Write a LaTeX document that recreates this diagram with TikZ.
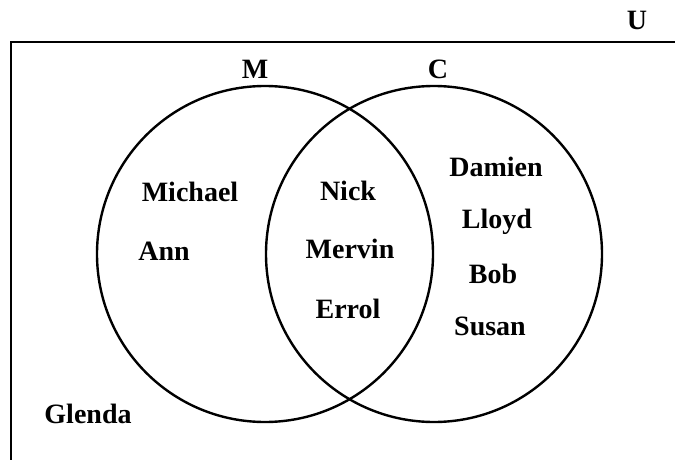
\documentclass[tikz,border=0pt]{standalone}
\usepackage{fontspec}
\setmainfont{Liberation Serif}
\begin{document}
\begin{tikzpicture}[x=1pt,y=-1pt,
  lbl/.style={font=\bfseries\fontsize{28}{31}\selectfont, anchor=base, inner sep=0pt},
  setc/.style={draw, line width=2.4pt, circle, minimum size=336pt, inner sep=0pt},
  frame/.style={line width=2.6pt}]
\useasboundingbox (0,0) rectangle (675,460);
% universe frame (right and bottom sides lie outside the picture)
\coordinate (ul) at (11,42);
\coordinate (ll) at (11,480);
\coordinate (ur) at (700,42);
\draw[frame] (ll) -- (ul) -- (ur);
% sets
\node[setc] (setM) at (265,254) {};
\node[setc] (setC) at (434,254) {};
% set labels
\node[lbl] (U) at (637,30) {U};
\node[lbl] (M) at (255,78) {M};
\node[lbl] (C) at (438,78) {C};
% members
\node[lbl] (michael) at (190,201) {Michael};
\node[lbl] (ann) at (164,260) {Ann};
\node[lbl] (nick) at (348,200) {Nick};
\node[lbl] (mervin) at (350,258) {Mervin};
\node[lbl] (errol) at (348,318) {Errol};
\node[lbl] (damien) at (496,176) {Damien};
\node[lbl] (lloyd) at (497,228) {Lloyd};
\node[lbl] (bob) at (493,283) {Bob};
\node[lbl] (susan) at (490,335) {Susan};
\node[lbl] (glenda) at (88,423) {Glenda};
\end{tikzpicture}
\end{document}
